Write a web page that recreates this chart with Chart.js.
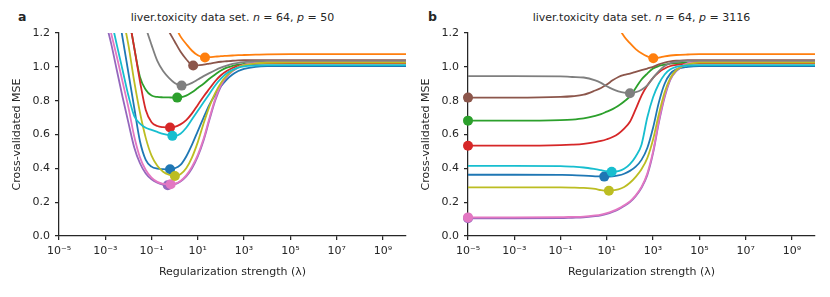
<!DOCTYPE html>
<html>
<head>
<meta charset="utf-8">
<script src="https://cdn.jsdelivr.net/npm/chart.js@4/dist/chart.umd.min.js"></script>
<style>
  body { margin: 0; background: #fff; }
  #wrap { position: relative; width: 830px; height: 297px; overflow: hidden;
          font-family: "DejaVu Sans", sans-serif; color: #262626; }
  canvas { position: absolute; top: 0; }
  .ttl { position: absolute; top: 12px; font-size: 11px; line-height: 12px; white-space: nowrap;
         transform: translateX(-50%); }
  .lbl { position: absolute; top: 10px; font-size: 12.5px; line-height: 14px; font-weight: bold; }
</style>
</head>
<body>
<div id="wrap">
  <div class="lbl" style="left:18px">a</div>
  <div class="ttl" style="left:232.5px">liver.toxicity data set. <i>n</i> = 64, <i>p</i> = 50</div>
  <div class="lbl" style="left:428px">b</div>
  <div class="ttl" style="left:641.5px">liver.toxicity data set. <i>n</i> = 64, <i>p</i> = 3116</div>
  <canvas id="ca" width="415" height="297" style="left:0"></canvas>
  <canvas id="cb" width="415" height="297" style="left:415px"></canvas>
</div>
<script>
// ---------- data: x values are log10(lambda) ----------
const xTickExponents = [-5, -3, -1, 1, 3, 5, 7, 9];
const yTickValues = [0, 0.2, 0.4, 0.6, 0.8, 1.0, 1.2];
const seriesNames = ['s1','s2','s3','s4','s5','s6','s7','s8','s9','s10'];

// Panel a: p = 50
const logLamA = [-5, -3, -2.75, -2.5, -2.25, -2, -1.75, -1.5, -1.25, -1, -0.75, -0.5, -0.25, 0, 0.25, 0.5, 0.75, 1, 1.25, 1.5, 1.75, 2, 2.25, 2.5, 2.75, 3, 3.5, 4, 5, 7, 10];
const a1  = [3.0, 1.75, 1.55, 1.37, 1.17, 0.965, 0.76, 0.56, 0.45, 0.41, 0.398, 0.395, 0.394, 0.40, 0.42, 0.47, 0.54, 0.62, 0.70, 0.775, 0.835, 0.885, 0.925, 0.955, 0.975, 0.988, 1.0, 1.004, 1.005, 1.005, 1.005];
const a2  = [3.8, 2.8, 2.65, 2.5, 2.35, 2.2, 2.05, 1.9, 1.77, 1.65, 1.55, 1.45, 1.34, 1.25, 1.18, 1.135, 1.095, 1.068, 1.056, 1.057, 1.06, 1.063, 1.065, 1.067, 1.069, 1.07, 1.072, 1.074, 1.075, 1.075, 1.075];
const a3  = [3.5, 2.1, 1.9, 1.7, 1.5, 1.31, 1.115, 0.94, 0.865, 0.83, 0.822, 0.82, 0.819, 0.818, 0.82, 0.83, 0.85, 0.875, 0.9, 0.93, 0.955, 0.978, 0.995, 1.005, 1.013, 1.018, 1.023, 1.025, 1.025, 1.025, 1.025];
const a4  = [3.5, 2.1, 1.9, 1.7, 1.5, 1.31, 1.115, 0.915, 0.745, 0.673, 0.65, 0.643, 0.641, 0.645, 0.66, 0.685, 0.725, 0.775, 0.825, 0.87, 0.915, 0.95, 0.975, 0.993, 1.005, 1.012, 1.018, 1.02, 1.02, 1.02, 1.02];
const a5  = [2.6, 1.28, 1.14, 0.98, 0.82, 0.67, 0.525, 0.43, 0.37, 0.335, 0.315, 0.303, 0.30, 0.305, 0.322, 0.352, 0.40, 0.47, 0.565, 0.685, 0.80, 0.885, 0.94, 0.975, 0.997, 1.012, 1.024, 1.029, 1.03, 1.03, 1.03];
const a6  = [3.5, 2.5, 2.35, 2.2, 2.05, 1.9, 1.78, 1.65, 1.53, 1.43, 1.35, 1.28, 1.21, 1.15, 1.09, 1.045, 1.012, 1.009, 1.013, 1.019, 1.025, 1.03, 1.033, 1.036, 1.038, 1.039, 1.04, 1.04, 1.04, 1.04, 1.04];
const a7  = [2.7, 1.33, 1.2, 1.06, 0.91, 0.76, 0.59, 0.465, 0.39, 0.345, 0.32, 0.308, 0.305, 0.308, 0.325, 0.358, 0.41, 0.48, 0.575, 0.695, 0.81, 0.895, 0.945, 0.978, 0.998, 1.012, 1.024, 1.029, 1.03, 1.03, 1.03];
const a8  = [3.5, 2.4, 2.2, 2.0, 1.8, 1.65, 1.5, 1.37, 1.235, 1.13, 1.035, 0.975, 0.935, 0.905, 0.89, 0.892, 0.905, 0.925, 0.945, 0.963, 0.98, 0.995, 1.007, 1.017, 1.024, 1.028, 1.033, 1.035, 1.035, 1.035, 1.035];
const a9  = [3.2, 1.85, 1.65, 1.47, 1.3, 1.13, 0.915, 0.73, 0.58, 0.475, 0.415, 0.38, 0.362, 0.355, 0.365, 0.40, 0.465, 0.555, 0.665, 0.765, 0.845, 0.905, 0.948, 0.978, 0.998, 1.01, 1.02, 1.024, 1.025, 1.025, 1.025];
const a10 = [2.5, 1.4, 1.28, 1.13, 0.98, 0.83, 0.71, 0.665, 0.64, 0.627, 0.615, 0.604, 0.596, 0.593, 0.605, 0.64, 0.69, 0.74, 0.79, 0.84, 0.89, 0.93, 0.962, 0.982, 0.995, 1.003, 1.008, 1.01, 1.01, 1.01, 1.01];
const minLogA = [-0.2, 1.31, 0.11, -0.2, -0.3, 0.80, -0.17, 0.30, 0.01, -0.1];
const minMseA = [0.395, 1.055, 0.818, 0.641, 0.30, 1.008, 0.306, 0.889, 0.355, 0.592];

// Panel b: p = 3116
const logLamB = [-5, -3, -1, -0.5, 0, 0.5, 0.75, 1, 1.25, 1.5, 1.75, 2, 2.25, 2.5, 2.75, 3, 3.25, 3.5, 3.75, 4, 4.5, 5, 7, 10];
const b1  = [0.362, 0.362, 0.361, 0.36, 0.357, 0.353, 0.352, 0.351, 0.353, 0.358, 0.368, 0.385, 0.41, 0.45, 0.52, 0.64, 0.79, 0.9, 0.96, 0.985, 1.0, 1.005, 1.005, 1.005];
const b2  = [2.4, 2.3, 2.1, 2.0, 1.85, 1.65, 1.55, 1.45, 1.35, 1.24, 1.18, 1.14, 1.105, 1.08, 1.062, 1.051, 1.054, 1.062, 1.067, 1.07, 1.073, 1.075, 1.075, 1.075];
const b3  = [0.682, 0.682, 0.685, 0.688, 0.695, 0.71, 0.72, 0.735, 0.75, 0.77, 0.795, 0.825, 0.875, 0.925, 0.96, 0.99, 1.005, 1.013, 1.019, 1.022, 1.025, 1.025, 1.025, 1.025];
const b4  = [0.534, 0.534, 0.537, 0.54, 0.545, 0.555, 0.562, 0.572, 0.585, 0.605, 0.635, 0.675, 0.75, 0.83, 0.89, 0.935, 0.968, 0.99, 1.005, 1.012, 1.018, 1.02, 1.02, 1.02];
const b5  = [0.105, 0.105, 0.106, 0.108, 0.11, 0.117, 0.122, 0.13, 0.142, 0.157, 0.177, 0.2, 0.235, 0.285, 0.36, 0.49, 0.67, 0.82, 0.925, 0.975, 1.02, 1.03, 1.03, 1.03];
const b6  = [0.818, 0.818, 0.822, 0.826, 0.835, 0.86, 0.875, 0.895, 0.92, 0.94, 0.952, 0.96, 0.97, 0.98, 0.99, 1.0, 1.015, 1.025, 1.032, 1.036, 1.04, 1.04, 1.04, 1.04];
const b7  = [0.11, 0.11, 0.111, 0.113, 0.115, 0.122, 0.127, 0.135, 0.147, 0.162, 0.182, 0.205, 0.24, 0.29, 0.37, 0.5, 0.68, 0.83, 0.93, 0.98, 1.02, 1.03, 1.03, 1.03];
const b8  = [0.945, 0.945, 0.944, 0.94, 0.937, 0.92, 0.905, 0.885, 0.868, 0.855, 0.847, 0.845, 0.85, 0.865, 0.89, 0.935, 0.975, 1.005, 1.022, 1.03, 1.035, 1.035, 1.035, 1.035];
const b9  = [0.288, 0.288, 0.287, 0.286, 0.284, 0.278, 0.271, 0.268, 0.27, 0.276, 0.29, 0.315, 0.35, 0.395, 0.46, 0.57, 0.72, 0.85, 0.935, 0.98, 1.015, 1.025, 1.025, 1.025];
const b10 = [0.414, 0.414, 0.413, 0.41, 0.405, 0.395, 0.389, 0.383, 0.38, 0.383, 0.397, 0.425, 0.47, 0.54, 0.70, 0.82, 0.9, 0.955, 0.985, 1.0, 1.008, 1.01, 1.01, 1.01];
const minLogB = [0.89, 3.01, -5, -5, -5, -5, -5, 2.0, 1.09, 1.21];
const minMseB = [0.351, 1.051, 0.682, 0.534, 0.105, 0.818, 0.11, 0.844, 0.268, 0.38];

// ---------- styles ----------
const colors = ['#1f77b4','#ff7f0e','#2ca02c','#d62728','#9467bd','#8c564b','#e377c2','#7f7f7f','#bcbd22','#17becf'];
const TXT = '#262626';
const FONT = 'DejaVu Sans';

const supMap = {'-':'\u207B','0':'\u2070','1':'\u00B9','2':'\u00B2','3':'\u00B3','4':'\u2074','5':'\u2075','6':'\u2076','7':'\u2077','8':'\u2078','9':'\u2079'};
function powLabel(v) { return '10' + String(v).split('').map(c => supMap[c] || c).join(''); }

function buildChart(id, grid, ys, minX, minY, geom) {
  const datasets = [];
  const total = ys.length * 2;
  ys.forEach((arr, i) => {
    datasets.push({
      label: seriesNames[i],
      data: grid.map((x, k) => ({ x: x, y: arr[k] })),
      borderColor: colors[i], borderWidth: 1.8, pointRadius: 0,
      cubicInterpolationMode: 'monotone', fill: false,
      order: total - 2 * i
    });
    datasets.push({
      label: seriesNames[i] + ' min',
      data: [{ x: minX[i], y: minY[i] }],
      showLine: false, pointRadius: 5, pointHoverRadius: 5,
      pointBackgroundColor: colors[i], pointBorderColor: colors[i], pointBorderWidth: 0,
      clip: false,
      order: total - 2 * i - 1
    });
  });
  return new Chart(document.getElementById(id), {
    type: 'line',
    data: { datasets },
    options: {
      responsive: false, animation: false, devicePixelRatio: 1,
      layout: { padding: { left: 0, right: geom.padR, top: 33, bottom: 0 } },
      plugins: { legend: { display: false }, tooltip: { enabled: false }, title: { display: false } },
      scales: {
        x: {
          type: 'linear', min: -5, max: 10,
          afterBuildTicks: s => { s.ticks = xTickExponents.map(v => ({ value: v })); },
          afterFit: s => { s.height = 61; },
          border: { display: true, color: TXT, width: 1.25 },
          grid: { drawOnChartArea: false, drawTicks: true, tickLength: 4, color: TXT, lineWidth: 1.25 },
          ticks: { color: TXT, font: { family: FONT, size: 11 }, padding: 5, maxRotation: 0, autoSkip: false,
                   callback: v => powLabel(v) },
          title: { display: true, text: 'Regularization strength (\u03BB)', color: TXT,
                   font: { family: FONT, size: 11 }, padding: { top: 0, bottom: 18 } }
        },
        y: {
          min: 0, max: 1.2,
          afterBuildTicks: s => { s.ticks = yTickValues.map(v => ({ value: v })); },
          afterFit: s => { s.width = geom.yW; },
          border: { display: true, color: TXT, width: 1.25 },
          grid: { drawOnChartArea: false, drawTicks: true, tickLength: 4, color: TXT, lineWidth: 1.25 },
          ticks: { color: TXT, font: { family: FONT, size: 11 }, padding: 5,
                   callback: v => Number(v).toFixed(1) },
          title: { display: true, text: 'Cross-validated MSE', color: TXT,
                   font: { family: FONT, size: 11 }, padding: { top: geom.yTitlePad, bottom: 0 } }
        }
      }
    }
  });
}

buildChart('ca', logLamA, [a1,a2,a3,a4,a5,a6,a7,a8,a9,a10], minLogA, minMseA, { padR: 9, yW: 59, yTitlePad: 11 });
buildChart('cb', logLamB, [b1,b2,b3,b4,b5,b6,b7,b8,b9,b10], minLogB, minMseB, { padR: 15, yW: 53, yTitlePad: 4.5 });
</script>
</body>
</html>
